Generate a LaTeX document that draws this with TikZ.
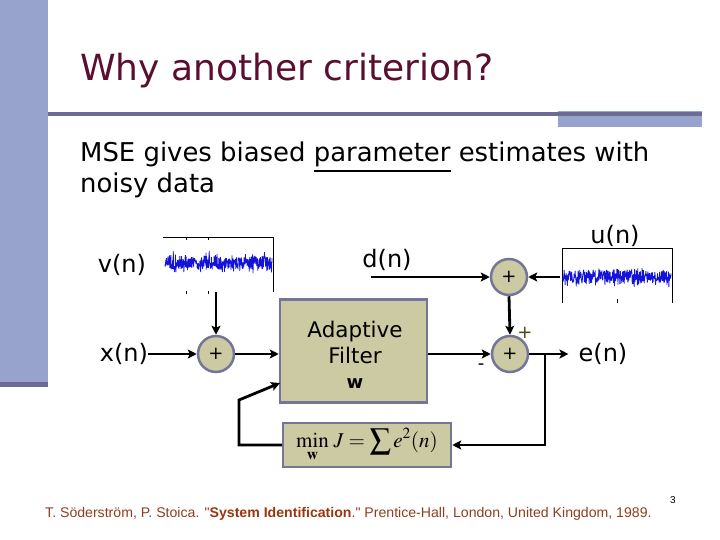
\documentclass[tikz,border=0pt]{standalone}
\usepackage{mathptmx}
\usepackage{fontspec}
\usepackage{graphicx}
\setmainfont{DejaVu Sans}
\newfontfamily\footfont{Liberation Sans}
\usetikzlibrary{arrows.meta}
\definecolor{barblue}{HTML}{97A3CC}
\definecolor{bardark}{HTML}{6B6B95}
\definecolor{titlecol}{HTML}{5B0F30}
\definecolor{khaki}{HTML}{CCCAA3}
\definecolor{edgecol}{HTML}{75759A}
\definecolor{footcol}{HTML}{8E3E1C}
\definecolor{footbold}{HTML}{9A3510}
\definecolor{plusol}{HTML}{4A4A10}
\definecolor{noise}{HTML}{1414D8}
\begin{document}
\begin{tikzpicture}[x=1pt,y=-1pt,
  sumnode/.style={circle, draw=edgecol, line width=2.5pt, fill=khaki, minimum size=36pt, inner sep=0pt, font=\fontsize{18}{18}\selectfont},
  blockbox/.style={draw=edgecol, line width=2.5pt, fill=khaki, inner sep=0pt},
  sig/.style={line width=2.8pt, -{Stealth[length=9pt,width=9pt,inset=2pt]}},
  lbl/.style={font=\fontsize{24}{24}\selectfont, inner sep=0pt},
  axisline/.style={line width=1pt},
  noiseline/.style={noise, line width=0.8pt, line join=bevel}
]
\useasboundingbox (0,0) rectangle (720,540);
% slide decoration
\fill[barblue] (0,0) rectangle (48,382);
\fill[bardark] (0,382) rectangle (48,387);
\fill[barblue] (558,111) rectangle (702,127);
\fill[bardark] (48,112) rectangle (702,116);
% title and body
\node[anchor=base west, text=titlecol, font=\fontsize{36}{36}\selectfont, inner sep=0pt] (title) at (80,81) {Why another criterion?};
\node[anchor=base west, font=\fontsize{25.9}{25.9}\selectfont, inner sep=0pt] (body1) at (80,162) {MSE gives biased \underline{parameter} estimates with};
\node[anchor=base west, font=\fontsize{25.9}{25.9}\selectfont, inner sep=0pt] (body2) at (80,193) {noisy data};
% noise plot v(n)
\draw[axisline] (163,237) -- (273,237) -- (273,292);
\draw[axisline] (186,237) -- (186,240) (208,237) -- (208,240);
\draw[axisline] (186,291) -- (186,294) (208,291) -- (208,294);
\pgfmathsetseed{7}
\draw[noiseline] plot[domain=165:272, samples=400, variable=\t] (\t, {263 + 7*rand + 9*rand*rand*rand});
% noise plot u(n)
\draw[axisline] (562,303) -- (562,248) -- (672,248) -- (672,303);
\draw[axisline] (617,299) -- (617,303);
\pgfmathsetseed{11}
\draw[noiseline] plot[domain=563:671, samples=400, variable=\t] (\t, {277 + 7*rand + 9*rand*rand*rand});
% nodes
\node[lbl] (vn) at (122,265) {v(n)};
\node[lbl] (xn) at (124,354) {x(n)};
\node[lbl] (dn) at (387,260) {d(n)};
\node[lbl] (un) at (615,236) {u(n)};
\node[lbl] (en) at (603,354) {e(n)};
\node[sumnode] (s1) at (216,354) {+};
\node[sumnode] (s2) at (510,354) {+};
\node[sumnode] (s3) at (509,277) {+};
\node[blockbox, minimum width=147pt, minimum height=103pt] (af) at (353.5,351) {};
\node[lbl, align=center, font=\fontsize{21.5}{26}\selectfont] (aftext) at (355,342) {Adaptive\\Filter};
\node[font=\fontsize{18}{18}\bfseries\selectfont, inner sep=0pt] (afw) at (355,384) {w};
\node[blockbox, minimum width=168pt, minimum height=44pt] (mb) at (367,445)
  {\fontsize{21}{21}\selectfont$\displaystyle\min\limits_{\mathbf{w}}\, J = \sum e^2(n)$};
\node[font=\fontsize{18}{18}\selectfont, inner sep=0pt] (minus) at (481,367) {-};
\node[text=plusol, font=\fontsize{18}{18}\selectfont, inner sep=0pt] (plus) at (525,333) {+};
\node[font=\footfont\fontsize{10}{10}\selectfont, inner sep=0pt] (pg) at (673,500) {3};
\node[anchor=base west, text=footcol, inner sep=0pt] (foot) at (45,517)
  {\footfont\fontsize{14}{14}\selectfont\scalebox{1.008}[1]{T. Söderström, P. Stoica. "\textbf{\color{footbold}System Identification}." Prentice-Hall, London, United Kingdom, 1989.}};
% coordinates
\coordinate (vout) at (216,292);
\coordinate (dstart) at (371,277);
\coordinate (uout) at (560,277);
\coordinate (br) at (545,354);
\coordinate (fb1) at (239,445);
\coordinate (fb2) at (239,400);
\coordinate (fbin) at (280,383);
% connectors
\draw[sig] (xn.east) -- (s1.west);
\draw[sig] (vout) -- (s1.north);
\draw[sig] (s1.east) -- (s1.east -| af.west);
\draw[sig] (s2.west -| af.east) -- (s2.west);
\draw[sig] (dstart) -- (s3.west);
\draw[sig] (uout) -- (s3.east);
\draw[sig] (s3.south) -- (s2.north);
\draw[sig, shorten >=10pt] (s2.east) -- (en.west);
\draw[sig] (br) |- (mb.east);
\draw[sig] (mb.west) -- (fb1) -- (fb2) -- (fbin);
\end{tikzpicture}
\end{document}
